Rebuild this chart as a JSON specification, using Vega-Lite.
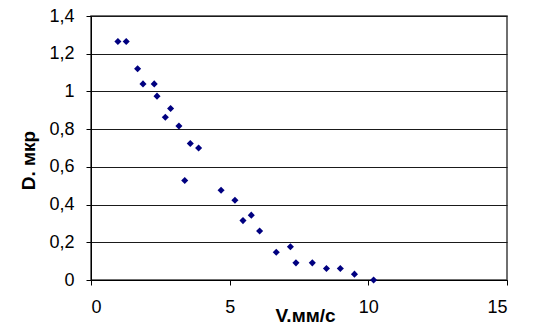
{
  "$schema": "https://vega.github.io/schema/vega-lite/v6.json",
  "autosize": "none",
  "width": 416,
  "height": 264,
  "padding": {"left": 91, "top": 16, "right": 29, "bottom": 54},
  "background": "white",
  "config": {
    "font": "Liberation Sans",
    "view": {"stroke": "#404040", "strokeWidth": 1.5},
    "axis": {
      "labelFont": "Liberation Sans",
      "labelFontSize": 18,
      "labelColor": "#000000",
      "titleFont": "Liberation Sans",
      "titleFontSize": 19,
      "titleFontWeight": "bold",
      "titleColor": "#000000",
      "domainColor": "#000000",
      "tickColor": "#000000",
      "tickSize": 5,
      "gridColor": "#1a1a1a",
      "gridWidth": 1
    }
  },
  "data": {
    "values": [
      {"V": 0.97, "D": 1.265},
      {"V": 1.27, "D": 1.265},
      {"V": 1.68, "D": 1.12},
      {"V": 1.875, "D": 1.04},
      {"V": 2.28, "D": 1.04},
      {"V": 2.38, "D": 0.975},
      {"V": 2.68, "D": 0.863},
      {"V": 2.87, "D": 0.909},
      {"V": 3.17, "D": 0.817},
      {"V": 3.58, "D": 0.724},
      {"V": 3.88, "D": 0.7},
      {"V": 3.38, "D": 0.528},
      {"V": 4.69, "D": 0.476},
      {"V": 5.19, "D": 0.423},
      {"V": 5.48, "D": 0.315},
      {"V": 5.78, "D": 0.344},
      {"V": 6.08, "D": 0.26},
      {"V": 6.68, "D": 0.147},
      {"V": 7.19, "D": 0.176},
      {"V": 7.39, "D": 0.091},
      {"V": 7.98, "D": 0.091},
      {"V": 8.49, "D": 0.061},
      {"V": 8.99, "D": 0.061},
      {"V": 9.5, "D": 0.031},
      {"V": 10.19, "D": 0.0}
    ]
  },
  "mark": {"type": "point", "shape": "diamond", "filled": true, "size": 50, "color": "#000080", "opacity": 1},
  "encoding": {
    "x": {
      "field": "V",
      "type": "quantitative",
      "scale": {"domain": [0, 15], "nice": false, "zero": true},
      "axis": {
        "title": "V.мм/с",
        "values": [0, 5, 10, 15],
        "grid": false,
        "labelPadding": 13,
        "titleX": 214,
        "titleY": 41,
        "titleAlign": "center",
        "titleBaseline": "alphabetic"
      }
    },
    "y": {
      "field": "D",
      "type": "quantitative",
      "scale": {"domain": [0, 1.4], "nice": false},
      "axis": {
        "title": "D. мкр",
        "values": [0, 0.2, 0.4, 0.6, 0.8, 1, 1.2, 1.4],
        "format": ".1~f",
        "labelExpr": "replace(datum.label, '.', ',')",
        "grid": true,
        "labelPadding": 12,
        "titleX": -57,
        "titleY": 144,
        "titleAngle": -90,
        "titleAlign": "center",
        "titleBaseline": "alphabetic"
      }
    }
  }
}
